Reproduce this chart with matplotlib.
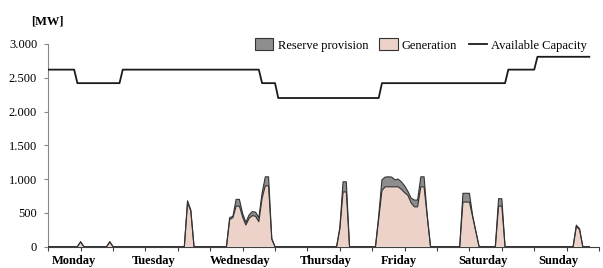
import matplotlib
matplotlib.use("Agg")
import matplotlib.pyplot as plt
import numpy as np
from matplotlib.patches import Patch
from matplotlib.lines import Line2D

plt.rcParams["font.family"] = ["Liberation Serif", "DejaVu Serif"]

# available capacity (corner points of the step line), hours of the week
cap_hours = [0, 8, 9, 22, 23, 65, 66, 70, 71, 102, 103, 141, 142, 150, 151, 167]
cap_mw = [2620, 2620, 2420, 2420, 2620, 2620, 2420, 2420, 2200, 2200, 2420, 2420,
          2620, 2620, 2810, 2810]

# generation and reserve provision, hourly values (zero between the listed hours)
gen_hours = [0, 9, 10, 11, 18, 19, 20,
             42, 43, 44, 45,
             55, 56, 57, 58, 59, 60, 61, 62, 63, 64, 65, 66, 67, 68, 69, 70,
             89, 90, 91, 92, 93,
             101, 102, 103, 104, 105, 106, 107, 108, 109, 110, 111, 112, 113, 114,
             115, 116, 117, 118,
             127, 128, 129, 130, 131, 132, 133,
             138, 139, 140, 141,
             162, 163, 164, 165, 167]
gen_mw = [0, 0, 70, 0, 0, 70, 0,
          0, 650, 530, 0,
          0, 400, 430, 600, 600, 440, 320, 420, 460, 450, 370, 715, 900, 900, 110, 0,
          0, 260, 810, 810, 0,
          0, 410, 830, 886, 886, 886, 886, 886, 850, 800, 760, 650, 590, 590,
          886, 886, 440, 0,
          0, 660, 660, 660, 440, 220, 0,
          0, 600, 600, 0,
          0, 300, 250, 0, 0]
reserve_mw = [0, 0, 5, 0, 0, 5, 0,
              0, 30, 15, 0,
              0, 30, 20, 100, 100, 50, 40, 50, 60, 60, 60, 75, 134, 134, 10, 0,
              0, 20, 150, 150, 0,
              0, 50, 160, 144, 148, 144, 104, 114, 110, 100, 60, 70, 100, 100,
              148, 148, 10, 0,
              0, 130, 130, 130, 20, 5, 0,
              0, 110, 110, 0,
              0, 20, 15, 0, 0]

days = ["Monday", "Tuesday", "Wednesday", "Thursday", "Friday", "Saturday", "Sunday"]
day_pos = [7.9, 32.6, 59.2, 85.7, 108.2, 134.2, 157.6]

gen = np.array(gen_mw)
top = gen + np.array(reserve_mw)

fig = plt.figure(figsize=(6.03, 2.68), dpi=100)
ax = fig.add_axes([0.080, 0.0795, 0.9134, 0.7565])

ax.fill_between(gen_hours, 0, gen, facecolor="#ecd2c9", edgecolor="none", zorder=2)
ax.fill_between(gen_hours, gen, top, facecolor="#8e8e8e", edgecolor="none", zorder=2)
ax.plot(gen_hours, gen, color="#333333", lw=0.8, zorder=3)
ax.plot(gen_hours, top, color="#333333", lw=0.8, zorder=3)
ax.plot(cap_hours, cap_mw, color="#1a1a1a", lw=1.3, zorder=4)

ax.set_xlim(0, 170)
ax.set_ylim(0, 3000)
ax.set_xticks(np.arange(0, 171, 10))
ax.set_xticklabels([])
ax.set_xticks(day_pos, minor=True)
ax.set_xticklabels(days, minor=True, fontsize=9, fontweight="bold")
ax.tick_params(axis="x", which="minor", length=0, pad=6)
ax.tick_params(axis="x", which="major", length=3, width=0.8, color="#404040")

yt = np.arange(0, 3001, 500)
ax.set_yticks(yt)
ax.set_yticklabels([f"{v:,.0f}".replace(",", ".") for v in yt], fontsize=9)
ax.tick_params(axis="y", length=3, width=0.8, color="#888888", pad=5)

for s in ["top", "right"]:
    ax.spines[s].set_visible(False)
ax.spines["left"].set_color("#888888")
ax.spines["bottom"].set_color("#404040")

fig.text(47 / 603, 1 - 22 / 268, "[MW]", ha="center", va="center",
         fontsize=9, fontweight="bold")

handles = [Patch(facecolor="#8e8e8e", edgecolor="#333333", lw=0.8),
           Patch(facecolor="#ecd2c9", edgecolor="#333333", lw=0.8),
           Line2D([0], [0], color="#1a1a1a", lw=1.3)]
labels = ["Reserve provision", "Generation", "Available Capacity"]
fig.legend(handles, labels, loc="center", bbox_to_anchor=(421 / 603, 1 - 45 / 268),
           ncol=3, frameon=False, fontsize=9, handlelength=1.45, handleheight=1.05,
           handletextpad=0.35, columnspacing=0.9)

fig.savefig("out.png", dpi=100)
